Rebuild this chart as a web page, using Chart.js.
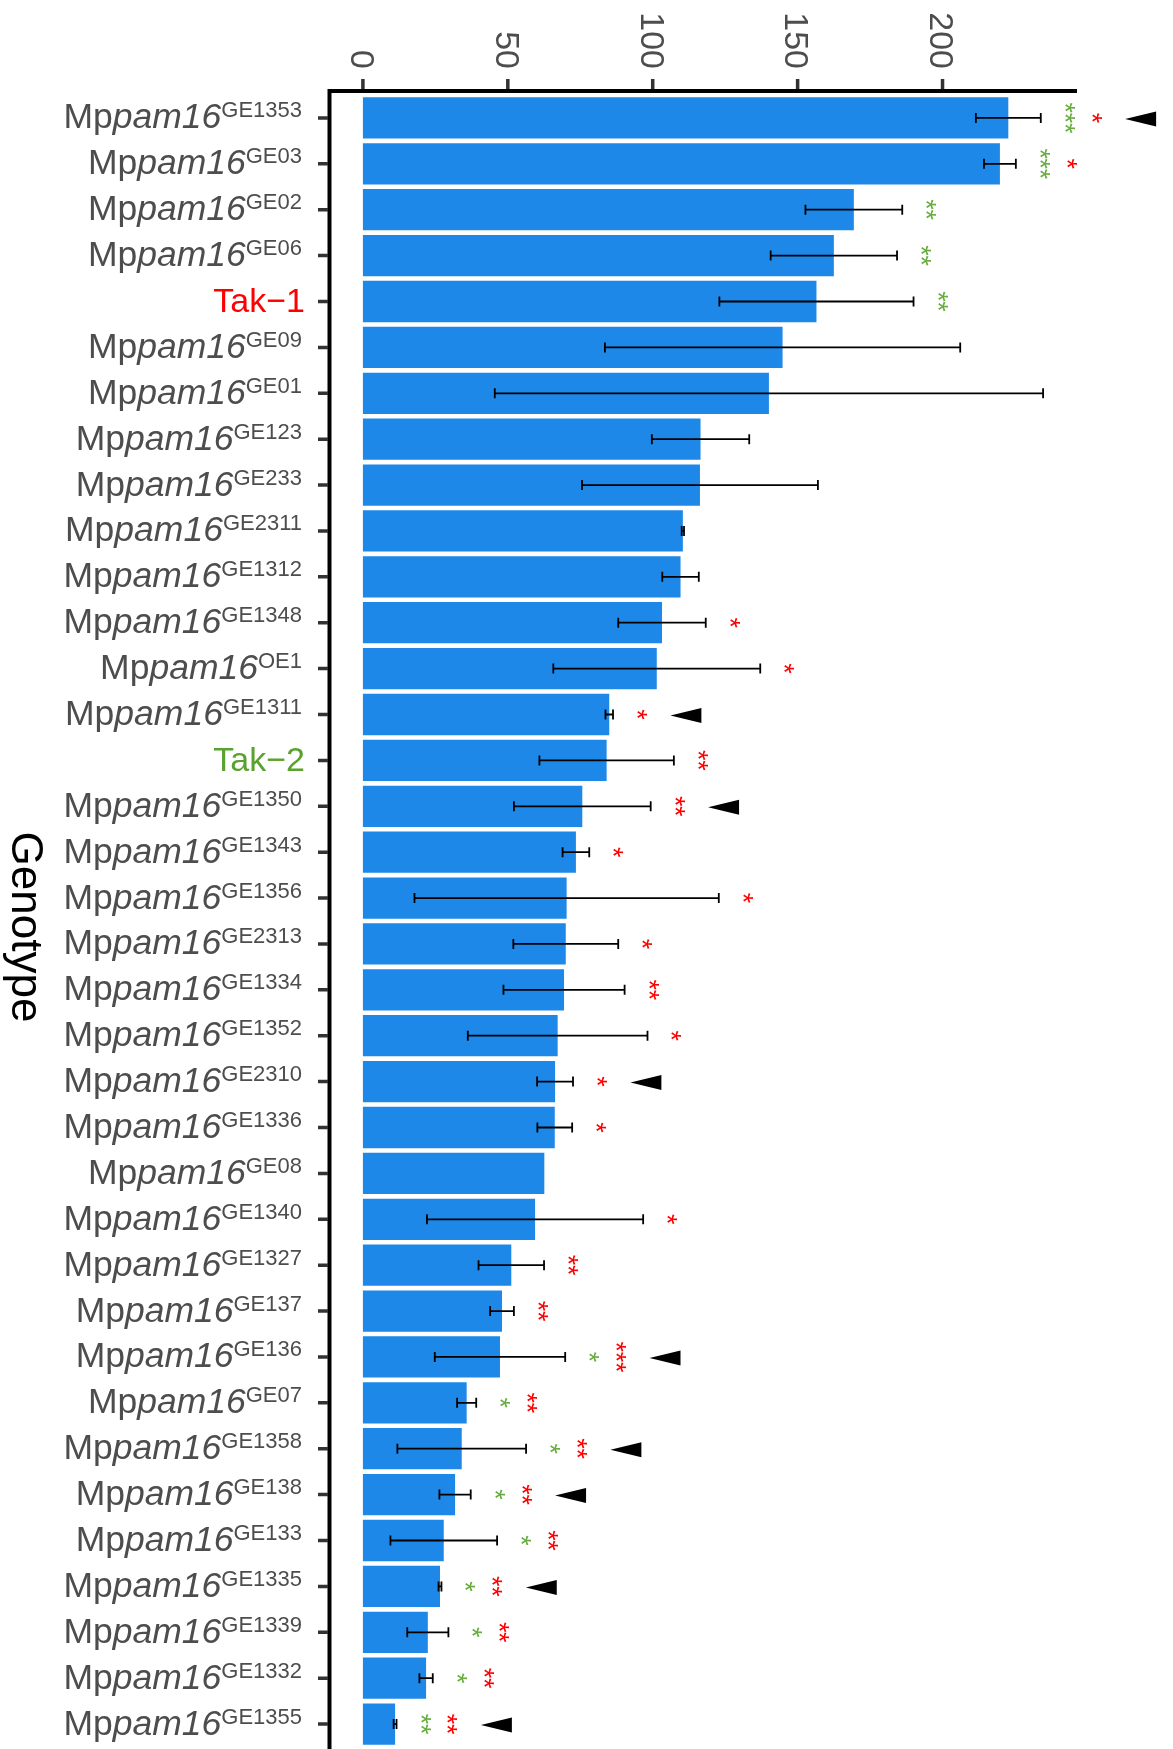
<!DOCTYPE html>
<html>
<head>
<meta charset="utf-8">
<title>Genotype</title>
<script src="https://cdn.jsdelivr.net/npm/chart.js@4.4.1/dist/chart.umd.min.js"></script>
<style>
  html, body { margin: 0; padding: 0; background: #fff; }
  #wrap { width: 1173px; height: 1749px; }
</style>
</head>
<body>
<div id="wrap"><canvas id="genotype-chart" width="1173" height="1749"></canvas></div>
<script>
// categories, top to bottom
const genotypes = ['GE1353', 'GE03', 'GE02', 'GE06', 'Tak-1', 'GE09', 'GE01', 'GE123', 'GE233',
  'GE2311', 'GE1312', 'GE1348', 'OE1', 'GE1311', 'Tak-2', 'GE1350', 'GE1343', 'GE1356',
  'GE2313', 'GE1334', 'GE1352', 'GE2310', 'GE1336', 'GE08', 'GE1340', 'GE1327', 'GE137',
  'GE136', 'GE07', 'GE1358', 'GE138', 'GE133', 'GE1335', 'GE1339', 'GE1332', 'GE1355'];

const meanValues = [222.7, 219.8, 169.4, 162.5, 156.5, 144.8, 140.1, 116.5, 116.3,
  110.4, 109.6, 103.2, 101.4, 85.0, 84.1, 75.7, 73.5, 70.3,
  70.0, 69.4, 67.2, 66.3, 66.2, 62.6, 59.4, 51.2, 48.0,
  47.3, 35.8, 34.1, 31.8, 27.9, 26.6, 22.4, 21.8, 11.1];

// error bar half widths (null = no bar)
const sdValues = [11.2, 5.5, 16.7, 21.8, 33.5, 61.3, 94.6, 16.8, 40.7,
  0.4, 6.3, 15.1, 35.7, 1.3, 23.2, 23.6, 4.6, 52.5,
  18.1, 20.9, 31.0, 6.2, 6.0, null, 37.3, 11.3, 4.1,
  22.5, 3.3, 22.2, 5.4, 18.4, 0.5, 7.1, 2.3, 0.5];

// significance marks per row
const greenStars = [3, 3, 2, 2, 2, 0, 0, 0, 0,
  0, 0, 0, 0, 0, 0, 0, 0, 0,
  0, 0, 0, 0, 0, 0, 0, 0, 0,
  1, 1, 1, 1, 1, 1, 1, 1, 2];
const redStars = [1, 1, 0, 0, 0, 0, 0, 0, 0,
  0, 0, 1, 1, 1, 2, 2, 1, 1,
  1, 2, 1, 1, 1, 0, 1, 2, 2,
  3, 2, 2, 2, 2, 2, 2, 2, 2];
const arrowMarks = [1, 0, 0, 0, 0, 0, 0, 0, 0,
  0, 0, 0, 0, 1, 0, 1, 0, 0,
  0, 0, 0, 1, 0, 0, 0, 0, 0,
  1, 0, 1, 1, 0, 1, 0, 0, 1];

const xTicks = [0, 50, 100, 150, 200];

const FONT = '"Liberation Sans", Arial, Helvetica, sans-serif';
const GREEN = '#5AA22E';
const STAR_GREEN = '#66AD3E';
const RED = '#FF0000';

function drawStars(ctx, n, px, yc, color) {
  ctx.save();
  ctx.fillStyle = color;
  ctx.font = '27px ' + FONT;
  ctx.textAlign = 'center';
  ctx.textBaseline = 'alphabetic';
  const m = ctx.measureText('*');
  const off = (m.actualBoundingBoxAscent - m.actualBoundingBoxDescent) / 2;
  for (let k = 0; k < n; k++) {
    const sy = yc + (k - (n - 1) / 2) * 10.2;
    ctx.save();
    ctx.translate(px, sy);
    ctx.rotate(Math.PI / 2);
    ctx.fillText('*', 0, off);
    ctx.restore();
  }
  ctx.restore();
}

const decorations = {
  id: 'decorations',
  afterDraw(chart) {
    const ctx = chart.ctx;
    const x = chart.scales.x;
    const y = chart.scales.y;
    ctx.save();

    // error bars
    ctx.strokeStyle = '#000';
    ctx.lineWidth = 1.8;
    meanValues.forEach((m, i) => {
      const sd = sdValues[i];
      if (sd == null) return;
      const yc = y.getPixelForValue(i);
      const x0 = x.getPixelForValue(m - sd);
      const x1 = x.getPixelForValue(m + sd);
      ctx.beginPath();
      ctx.moveTo(x0, yc); ctx.lineTo(x1, yc);
      ctx.moveTo(x0, yc - 5); ctx.lineTo(x0, yc + 5);
      ctx.moveTo(x1, yc - 5); ctx.lineTo(x1, yc + 5);
      ctx.stroke();
    });

    // stars and arrowheads right of the error bars
    meanValues.forEach((m, i) => {
      const sd = sdValues[i];
      if (sd == null) return;
      const yc = y.getPixelForValue(i);
      let pos = m + sd + 10;
      let last = null;
      if (greenStars[i]) {
        drawStars(ctx, greenStars[i], x.getPixelForValue(pos), yc, STAR_GREEN);
        last = pos; pos += 9.3;
      }
      if (redStars[i]) {
        drawStars(ctx, redStars[i], x.getPixelForValue(pos), yc, RED);
        last = pos; pos += 9.3;
      }
      if (arrowMarks[i]) {
        const tip = x.getPixelForValue(last + 9.8);
        ctx.fillStyle = '#000';
        ctx.beginPath();
        ctx.moveTo(tip, yc + 1);
        ctx.lineTo(tip + 31, yc - 6.5);
        ctx.lineTo(tip + 31, yc + 8.5);
        ctx.closePath();
        ctx.fill();
      }
    });

    // axis lines
    ctx.strokeStyle = '#000';
    ctx.lineWidth = 4;
    ctx.beginPath();
    ctx.moveTo(327.5, 91); ctx.lineTo(x.right, 91);
    ctx.moveTo(329.5, 89); ctx.lineTo(329.5, chart.height);
    ctx.stroke();

    // tick marks
    ctx.strokeStyle = '#333333';
    ctx.lineWidth = 3.5;
    ctx.beginPath();
    xTicks.forEach(v => {
      const px = x.getPixelForValue(v);
      ctx.moveTo(px, 79); ctx.lineTo(px, 89);
    });
    genotypes.forEach((g, i) => {
      const yc = y.getPixelForValue(i);
      ctx.moveTo(318, yc); ctx.lineTo(328, yc);
    });
    ctx.stroke();

    // top tick labels, rotated
    ctx.fillStyle = '#4D4D4D';
    ctx.font = '34px ' + FONT;
    ctx.textAlign = 'right';
    ctx.textBaseline = 'alphabetic';
    xTicks.forEach(v => {
      const px = x.getPixelForValue(v);
      ctx.save();
      ctx.translate(px, 69);
      ctx.rotate(Math.PI / 2);
      ctx.fillText(String(v), 0, 0.358 * 34);
      ctx.restore();
    });

    // genotype labels
    genotypes.forEach((g, i) => {
      const yc = y.getPixelForValue(i);
      ctx.textAlign = 'left';
      if (g.startsWith('Tak')) {
        ctx.font = '34px ' + FONT;
        ctx.fillStyle = g === 'Tak-1' ? RED : GREEN;
        ctx.textAlign = 'right';
        ctx.fillText(g.replace('-', '\u2212'), 305, yc + 10.5);
        return;
      }
      ctx.fillStyle = '#4D4D4D';
      ctx.font = '22px ' + FONT;
      let xr = 302 - ctx.measureText(g).width;
      ctx.fillText(g, xr, yc - 0.5);
      ctx.font = 'italic 35.5px ' + FONT;
      xr -= ctx.measureText('pam16').width;
      ctx.fillText('pam16', xr, yc + 10.5);
      ctx.font = '35.5px ' + FONT;
      xr -= ctx.measureText('Mp').width;
      ctx.fillText('Mp', xr, yc + 10.5);
    });

    // axis title
    ctx.fillStyle = '#000';
    ctx.font = '44px ' + FONT;
    ctx.textAlign = 'center';
    ctx.save();
    ctx.translate(12, 927);
    ctx.rotate(Math.PI / 2);
    ctx.fillText('Genotype', 0, 0);
    ctx.restore();

    ctx.restore();
  }
};

const ctx = document.getElementById('genotype-chart').getContext('2d');
new Chart(ctx, {
  type: 'bar',
  data: {
    labels: genotypes,
    datasets: [{
      data: meanValues,
      backgroundColor: '#1E88E8',
      borderWidth: 0,
      barPercentage: 0.9,
      categoryPercentage: 1.0,
    }],
  },
  options: {
    indexAxis: 'y',
    responsive: false,
    animation: false,
    devicePixelRatio: 1,
    layout: {
      padding: { left: 0, right: 96, top: 0, bottom: 2 },
    },
    scales: {
      x: {
        type: 'linear',
        position: 'top',
        min: -11.7,
        max: 246.4,
        afterFit: (s) => { s.height = 95; },
        ticks: { display: false, stepSize: 50, includeBounds: false },
        grid: { display: false },
        border: { display: false },
      },
      y: {
        type: 'category',
        offset: true,
        afterFit: (s) => { s.width = 329; },
        ticks: { display: false },
        grid: { display: false },
        border: { display: false },
      },
    },
    plugins: {
      legend: { display: false },
      tooltip: { enabled: false },
    },
  },
  plugins: [decorations],
});
</script>
</body>
</html>
